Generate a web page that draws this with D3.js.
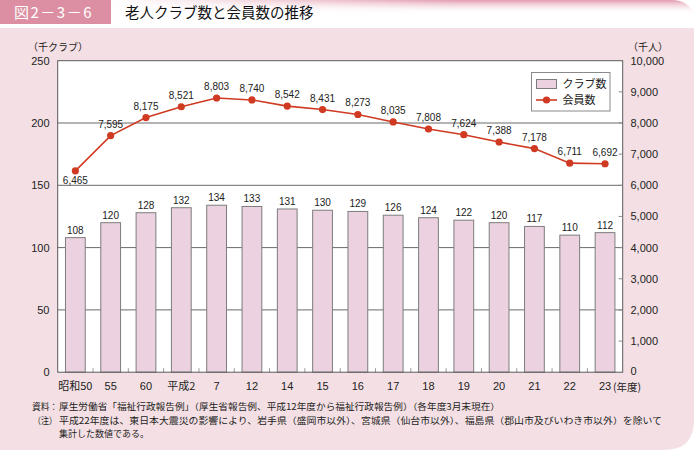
<!DOCTYPE html>
<html><head><meta charset="utf-8">
<script src="https://cdn.jsdelivr.net/npm/d3@7"></script>
<style>
html,body{margin:0;padding:0;background:#fff;}
svg{display:block;}
text{font-family:"Liberation Sans",Arial,"Noto Sans CJK JP",sans-serif;}
.jp{font-family:"Noto Sans CJK JP","Noto Sans",sans-serif;}
</style></head>
<body>
<script>
const categories = ["昭和50","55","60","平成2","7","12","14","15","16","17","18","19","20","21","22","23"];
const clubs = [108,120,128,132,134,133,131,130,129,126,124,122,120,117,110,112];
const members = [6465,7595,8175,8521,8803,8740,8542,8431,8273,8035,7808,7624,7388,7178,6711,6692];
const leftTicks = [0,50,100,150,200,250];
const rightTicks = [0,1000,2000,3000,4000,5000,6000,7000,8000,9000,10000];
const gridTicks = [50,100,150,200];
const seriesNames = ["クラブ数","会員数"];

const W = 694, H = 452;
const svg = d3.select("body").append("svg").attr("width", W).attr("height", H);
const defs = svg.append("defs");

const gv = defs.append("linearGradient").attr("id","gv").attr("x1",0).attr("y1",0).attr("x2",0).attr("y2",1);
gv.append("stop").attr("offset","0%").attr("stop-color","#e29aad");
gv.append("stop").attr("offset","100%").attr("stop-color","#ffffff").attr("stop-opacity",0);
const gh = defs.append("linearGradient").attr("id","gh").attr("x1",0).attr("y1",0).attr("x2",1).attr("y2",0);
gh.append("stop").attr("offset","0%").attr("stop-color","#fff").attr("stop-opacity",1);
gh.append("stop").attr("offset","60%").attr("stop-color","#fff").attr("stop-opacity",0);

const py0 = 28, py1 = 450, pr = 30;
svg.append("path")
  .attr("d", `M0,${py0} H${W} V${py1-pr} Q${W},${py1} ${W-pr},${py1} H0 Z`)
  .attr("fill","#f4e0e4");

svg.append("path")
  .attr("d", `M111,0 H${W-22} Q${W-6},0 ${W},14 H111 Z`)
  .attr("fill","url(#gv)");
svg.append("rect").attr("x",111).attr("y",0).attr("width",W-111).attr("height",15).attr("fill","url(#gh)");

svg.append("rect").attr("x",0).attr("y",0).attr("width",111).attr("height",24).attr("fill","#dc8fa3");
svg.append("text").attr("class","jp").attr("x",14).attr("y",18).attr("fill","#fff")
  .attr("font-size",15).attr("letter-spacing",1.5).text("図2－3－6");
svg.append("text").attr("class","jp").attr("x",125).attr("y",18).attr("fill","#111")
  .attr("font-size",14.5).text("老人クラブ数と会員数の推移");

const L = 57.7, R = 622.7, T = 60.7, B = 372.2;
const x = d3.scaleBand().domain(categories).range([L,R]).paddingInner(0.44).paddingOuter(0.22);
const yL = d3.scaleLinear().domain([0,250]).range([B,T]);
const yR = d3.scaleLinear().domain([0,10000]).range([B,T]);

svg.append("rect").attr("x",L).attr("y",T).attr("width",R-L).attr("height",B-T).attr("fill","#fff");

svg.append("g").selectAll("line").data(gridTicks).join("line")
  .attr("x1",L).attr("x2",R).attr("y1",d=>yL(d)).attr("y2",d=>yL(d))
  .attr("stroke","#6a6a6a").attr("stroke-width",1);

const step = x.step();
const bounds = categories.slice(1).map(c => x(c) - (step - x.bandwidth())/2);
svg.append("g").selectAll("line").data(bounds).join("line")
  .attr("x1",d=>d).attr("x2",d=>d).attr("y1",B).attr("y2",B-4)
  .attr("stroke","#9a9a9a").attr("stroke-width",1);

svg.append("g").selectAll("rect").data(clubs).join("rect")
  .attr("x",(d,i)=>x(categories[i])).attr("width",x.bandwidth())
  .attr("y",d=>yL(d)).attr("height",d=>B-yL(d))
  .attr("fill","#ecd2e0").attr("stroke","#7d7d7d").attr("stroke-width",1);

svg.append("rect").attr("x",L).attr("y",T).attr("width",R-L).attr("height",B-T)
  .attr("fill","none").attr("stroke","#5a5a5a").attr("stroke-width",1);

svg.append("g").selectAll("line").data(rightTicks.filter(d=>d>0&&d<10000)).join("line")
  .attr("x1",R-4).attr("x2",R).attr("y1",d=>yR(d)).attr("y2",d=>yR(d))
  .attr("stroke","#8a8a8a");

svg.append("g").selectAll("text").data(leftTicks).join("text")
  .attr("x",49.5).attr("y",d=>yL(d)+4).attr("text-anchor","end")
  .attr("font-size",11).attr("fill","#222").text(d=>d);
const fmt = d3.format(",");
svg.append("g").selectAll("text").data(rightTicks).join("text")
  .attr("x",630.5).attr("y",d=>yR(d)+ (d===0?2.5:4)).attr("text-anchor","start")
  .attr("font-size",11).attr("fill","#222").text(d=>fmt(d));
svg.append("text").attr("class","jp").attr("x",28).attr("y",51).attr("font-size",10).attr("fill","#222").text("（千クラブ）");
svg.append("text").attr("class","jp").attr("x",628).attr("y",51).attr("font-size",10).attr("fill","#222").text("（千人）");

svg.append("g").selectAll("text").data(categories).join("text")
  .attr("class",d=>/[^0-9]/.test(d)?"jp":null)
  .attr("x",d=>x(d)+x.bandwidth()/2).attr("y",390).attr("text-anchor","middle")
  .attr("font-size",11).attr("fill","#222").text(d=>d);
svg.append("text").attr("class","jp").attr("x",x("23")+x.bandwidth()/2+8).attr("y",390.5)
  .attr("font-size",10.5).attr("fill","#222").text("(年度)");

svg.append("g").selectAll("text").data(clubs).join("text")
  .attr("x",(d,i)=>x(categories[i])+x.bandwidth()/2).attr("y",d=>yL(d)-4)
  .attr("text-anchor","middle").attr("font-size",10).attr("fill","#222").text(d=>d);

const cx = (d,i)=>x(categories[i])+x.bandwidth()/2;
svg.append("path").datum(members)
  .attr("d", d3.line().x(cx).y(d=>yR(d)))
  .attr("fill","none").attr("stroke","#d03a22").attr("stroke-width",1.6);
svg.append("g").selectAll("circle").data(members).join("circle")
  .attr("cx",cx).attr("cy",d=>yR(d)).attr("r",3.6).attr("fill","#d03a22");
svg.append("g").selectAll("text").data(members).join("text")
  .attr("x",cx).attr("y",(d,i)=> i===0 ? yR(d)+13 : yR(d)-8)
  .attr("text-anchor","middle").attr("font-size",10).attr("fill","#222").text(d=>fmt(d));

const lg = svg.append("g");
lg.append("rect").attr("x",531.5).attr("y",72.5).attr("width",78.5).attr("height",38.5)
  .attr("fill","#fff").attr("stroke","#8a8a8a");
lg.append("rect").attr("x",536.5).attr("y",79.5).attr("width",20).attr("height",9)
  .attr("fill","#ecd2e0").attr("stroke","#7d7d7d");
lg.append("line").attr("x1",536).attr("x2",557).attr("y1",100).attr("y2",100)
  .attr("stroke","#d03a22").attr("stroke-width",1.6);
lg.append("circle").attr("cx",546.5).attr("cy",100).attr("r",3.6).attr("fill","#d03a22");
lg.append("text").attr("class","jp").attr("x",562.5).attr("y",88).attr("font-size",11).attr("fill","#222").text(seriesNames[0]);
lg.append("text").attr("class","jp").attr("x",562.5).attr("y",104).attr("font-size",11).attr("fill","#222").text(seriesNames[1]);

const fn = svg.append("g").attr("font-size",9).attr("fill","#222");
fn.append("text").attr("class","jp").attr("x",32).attr("y",410).attr("textLength",26).attr("lengthAdjust","spacingAndGlyphs").text("資料：");
fn.append("text").attr("class","jp").attr("x",59).attr("y",410).attr("textLength",441).attr("lengthAdjust","spacingAndGlyphs")
  .text("厚生労働省「福祉行政報告例」（厚生省報告例、平成12年度から福祉行政報告例）（各年度3月末現在）");
fn.append("text").attr("class","jp").attr("x",33).attr("y",423.5).attr("textLength",24).attr("lengthAdjust","spacingAndGlyphs").text("（注）");
fn.append("text").attr("class","jp").attr("x",59).attr("y",423.5).attr("textLength",603).attr("lengthAdjust","spacingAndGlyphs")
  .text("平成22年度は、東日本大震災の影響により、岩手県（盛岡市以外）、宮城県（仙台市以外）、福島県（郡山市及びいわき市以外）を除いて");
fn.append("text").attr("class","jp").attr("x",59).attr("y",437).text("集計した数値である。");
</script>
</body></html>
